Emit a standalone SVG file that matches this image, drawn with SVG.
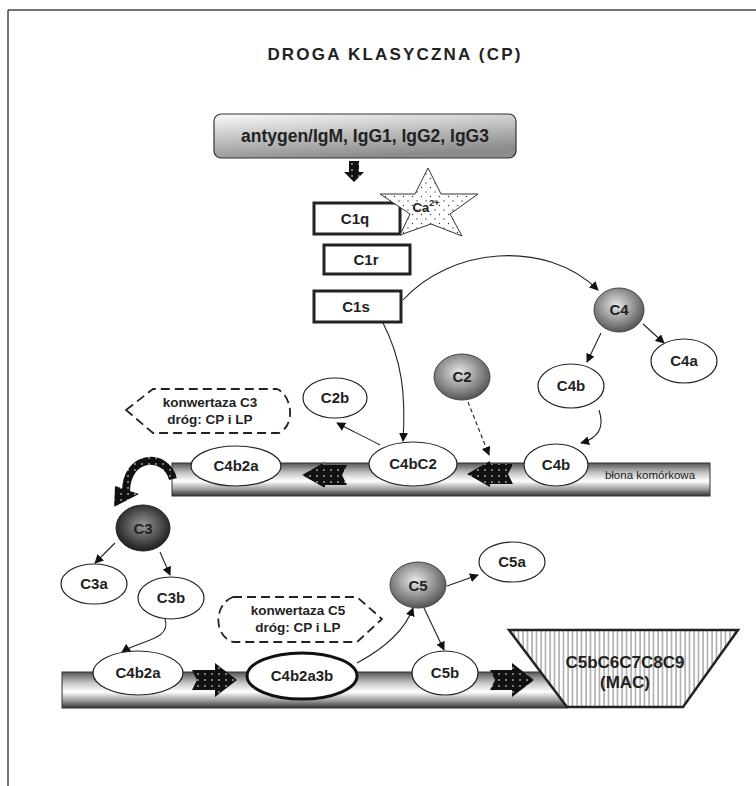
<svg xmlns="http://www.w3.org/2000/svg" width="756" height="786" viewBox="0 0 756 786">
<defs>
<style>
text{font-family:"Liberation Sans",Arial,sans-serif;font-weight:bold;fill:#222;text-anchor:middle}
.lbl{font-size:15px}
.ov{fill:#fff;stroke:#222;stroke-width:1.2}
.box{fill:#fff;stroke:#222;stroke-width:3}
.con{fill:none;stroke:#222;stroke-width:1.1}
.dash{fill:#fff;stroke:#222;stroke-width:1.8;stroke-dasharray:9 5}
.blk{fill:url(#dots);stroke:none}
</style>
<pattern id="dots" width="7" height="6" patternUnits="userSpaceOnUse">
<rect width="7" height="6" fill="#111"/>
<circle cx="2" cy="2" r="0.8" fill="#fff"/>
</pattern>
<pattern id="hatch" width="4.5" height="10" patternUnits="userSpaceOnUse">
<rect width="4.5" height="10" fill="#fff"/>
<line x1="1" y1="0" x2="1" y2="10" stroke="#555" stroke-width="0.8"/>
</pattern>
<pattern id="stardots" width="9" height="9" patternUnits="userSpaceOnUse">
<rect width="9" height="9" fill="#fff"/>
<circle cx="3" cy="3" r="0.7" fill="#333"/>
<circle cx="7.5" cy="7.5" r="0.7" fill="#333"/>
</pattern>
<linearGradient id="topbox" x1="0" y1="0" x2="0.4" y2="1">
<stop offset="0" stop-color="#fafafa"/>
<stop offset="1" stop-color="#8c8c8c"/>
</linearGradient>
<linearGradient id="bar" x1="0" y1="0" x2="0" y2="1">
<stop offset="0" stop-color="#555"/>
<stop offset="0.3" stop-color="#c4c4c4"/>
<stop offset="0.55" stop-color="#fff"/>
<stop offset="0.8" stop-color="#999"/>
<stop offset="1" stop-color="#333"/>
</linearGradient>
<radialGradient id="gray" cx="0.45" cy="0.4" r="0.6">
<stop offset="0" stop-color="#e8e8e8"/>
<stop offset="1" stop-color="#555"/>
</radialGradient>
<radialGradient id="dark" cx="0.5" cy="0.45" r="0.6">
<stop offset="0" stop-color="#9a9a9a"/>
<stop offset="1" stop-color="#111"/>
</radialGradient>
<marker id="ah" viewBox="0 0 10 10" refX="9" refY="5" markerWidth="9" markerHeight="9" markerUnits="userSpaceOnUse" orient="auto">
<path d="M0,0 L10,5 L0,10 Z" fill="#111"/>
</marker>
</defs>
<rect width="756" height="786" fill="#fff"/>
<g id="frame" fill="none" stroke="#444" stroke-width="1.5">
<line x1="8" y1="10" x2="756" y2="10"/>
<line x1="8" y1="10" x2="8" y2="786"/>
</g>
<text id="title" x="395" y="60" font-size="17" letter-spacing="2.2">DROGA KLASYCZNA (CP)</text>

<g id="membranes">
<rect x="172" y="463" width="538" height="33" fill="url(#bar)" stroke="#333" stroke-width="1"/>
<text x="650" y="479" font-size="11.5" style="font-weight:normal">błona komórkowa</text>
<rect x="62" y="672" width="505" height="36" fill="url(#bar)" stroke="#333" stroke-width="1"/>
</g>

<g id="connectors">
<path class="con" d="M403,300 C450,248 545,238 598,290" marker-end="url(#ah)"/>
<path class="con" d="M601,333 L587,362" marker-end="url(#ah)"/>
<path class="con" d="M643,324 L664,343" marker-end="url(#ah)"/>
<path class="con" d="M599,410 C605,428 598,438 581,443" marker-end="url(#ah)"/>
<path class="con" d="M383,323 C402,360 406,395 403,441" marker-end="url(#ah)"/>
<path class="con" d="M468,402 L489,455" stroke-dasharray="4 3" marker-end="url(#ah)"/>
<path class="con" d="M380,445 C365,437 350,430 337,423" marker-end="url(#ah)"/>
<path class="con" d="M115,543 L95,563" marker-end="url(#ah)"/>
<path class="con" d="M160,552 L170,575" marker-end="url(#ah)"/>
<path class="con" d="M165,619 C172,640 140,640 122,652" marker-end="url(#ah)"/>
<path class="con" d="M357,663 C385,648 405,630 413,608" marker-end="url(#ah)"/>
<path class="con" d="M447,586 L478,575" marker-end="url(#ah)"/>
<path class="con" d="M424,608 L444,650" marker-end="url(#ah)"/>
<polygon class="blk" points="349,161 359,161 359,172 364,172 354,182 344,172 349,172"/>
<polygon class="blk" points="347,465 325,465 325,462 302,475 325,488 325,485 347,485 342,475"/>
<polygon class="blk" points="513,464 490,464 490,461 467,474 490,487 490,484 513,484 508,474"/>
<polygon class="blk" points="192,670 215,670 215,663 237,680 215,697 215,690 192,690 197,680"/>
<polygon class="blk" points="490,670 512,670 512,663 534,680 512,697 512,690 490,690 495,680"/>
<path d="M173,479 C166,452 126,454 126,492" fill="none" stroke="url(#dots)" stroke-width="8"/>
<polygon points="114,507 115,486 139,494" fill="url(#dots)"/>
</g>

<g id="n-antygen">
<rect x="214" y="114" width="302" height="44" rx="7" fill="url(#topbox)" stroke="#333" stroke-width="1.2"/>
<text x="365" y="142" font-size="17.5">antygen/IgM, IgG1, IgG2, IgG3</text>
</g>
<g id="n-C1q"><rect class="box" x="314" y="203" width="86" height="31"/><text class="lbl" x="355" y="224">C1q</text></g>
<g id="n-Ca">
<polygon points="428,168 441,194 478,194 450,214 462,236 431,224 400,235 410,214 380,194 415,194" fill="url(#stardots)" stroke="#333" stroke-width="1"/>
<text x="426" y="212" font-size="13">Ca<tspan font-size="9" dy="-6">2+</tspan></text>
</g>
<g id="n-C1r"><rect class="box" x="324" y="245" width="86" height="29"/><text class="lbl" x="366" y="265">C1r</text></g>
<g id="n-C1s"><rect class="box" x="314" y="291" width="87" height="31"/><text class="lbl" x="356" y="312">C1s</text></g>

<g id="n-C4"><ellipse cx="619" cy="310" rx="25" ry="22" fill="url(#gray)" stroke="#444"/><text class="lbl" x="619" y="315">C4</text></g>
<g id="n-C4a"><ellipse class="ov" cx="684" cy="361" rx="33" ry="22"/><text class="lbl" x="684" y="366">C4a</text></g>
<g id="n-C4b-top"><ellipse class="ov" cx="571" cy="386" rx="33" ry="22"/><text class="lbl" x="571" y="391">C4b</text></g>
<g id="n-C2"><ellipse cx="462" cy="377" rx="28" ry="23" fill="url(#gray)" stroke="#444"/><text class="lbl" x="462" y="382">C2</text></g>
<g id="n-C2b"><ellipse class="ov" cx="335" cy="398" rx="32" ry="20"/><text class="lbl" x="335" y="403">C2b</text></g>
<g id="n-konw3">
<path class="dash" d="M126,410 L153,389 L277,389 C292,395 296,425 279,433 L153,433 Z"/>
<text x="210" y="407" font-size="13.5">konwertaza C3</text>
<text x="210" y="424" font-size="13.5">dróg: CP i LP</text>
</g>
<g id="n-C4b-mem"><ellipse class="ov" cx="556" cy="465" rx="32" ry="21"/><text class="lbl" x="556" y="470">C4b</text></g>
<g id="n-C4bC2"><ellipse class="ov" cx="413" cy="464" rx="44" ry="22"/><text class="lbl" x="413" y="469">C4bC2</text></g>
<g id="n-C4b2a-top"><ellipse class="ov" cx="236" cy="466" rx="45" ry="20"/><text class="lbl" x="236" y="471">C4b2a</text></g>

<g id="n-C3"><ellipse cx="143" cy="528" rx="27" ry="23" fill="url(#dark)" stroke="#222"/><text class="lbl" x="143" y="534" font-size="16">C3</text></g>
<g id="n-C3a"><ellipse class="ov" cx="94" cy="584" rx="33" ry="20"/><text class="lbl" x="94" y="589">C3a</text></g>
<g id="n-C3b"><ellipse class="ov" cx="171" cy="598" rx="33" ry="21"/><text class="lbl" x="171" y="603">C3b</text></g>
<g id="n-konw5">
<path class="dash" d="M233,597 L357,597 L382,619 L357,642 L233,642 C213,636 214,604 233,597 Z"/>
<text x="298" y="615" font-size="13.5">konwertaza C5</text>
<text x="298" y="632" font-size="13.5">dróg: CP i LP</text>
</g>
<g id="n-C4b2a-bot"><ellipse class="ov" cx="138" cy="673" rx="45" ry="22"/><text class="lbl" x="138" y="678">C4b2a</text></g>
<g id="n-C4b2a3b"><ellipse cx="302" cy="676" rx="55" ry="23" fill="#fff" stroke="#111" stroke-width="3"/><text class="lbl" x="302" y="681">C4b2a3b</text></g>
<g id="n-C5"><ellipse cx="418" cy="585" rx="28" ry="23" fill="url(#gray)" stroke="#444"/><text class="lbl" x="418" y="591" font-size="16">C5</text></g>
<g id="n-C5a"><ellipse class="ov" cx="512" cy="562" rx="33" ry="20"/><text class="lbl" x="512" y="567">C5a</text></g>
<g id="n-C5b"><ellipse class="ov" cx="445" cy="673" rx="33" ry="22"/><text class="lbl" x="445" y="678">C5b</text></g>
<g id="n-MAC">
<polygon points="509,630 738,630 683,707 567,707" fill="url(#hatch)" stroke="#222" stroke-width="2.5"/>
<text x="625" y="668" font-size="17">C5bC6C7C8C9</text>
<text x="625" y="688" font-size="17">(MAC)</text>
</g>
</svg>
